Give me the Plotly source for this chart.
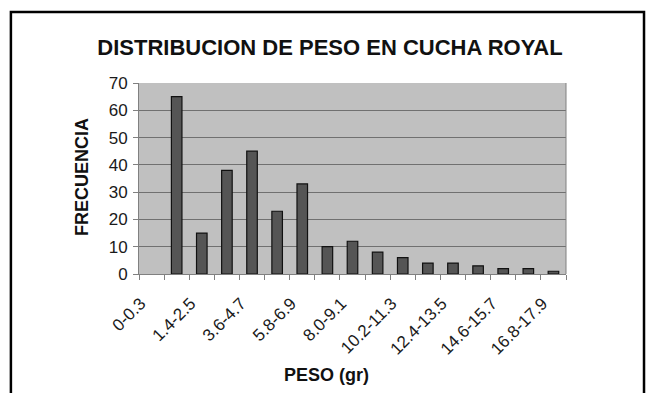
import plotly.graph_objects as go

# Weight classes (grams) and how many fish fall in each
clases = ["0-0.3", "0.3-1.4", "1.4-2.5", "2.5-3.6", "3.6-4.7", "4.7-5.8",
          "5.8-6.9", "6.9-8.0", "8.0-9.1", "9.1-10.2", "10.2-11.3",
          "11.3-12.4", "12.4-13.5", "13.5-14.6", "14.6-15.7", "15.7-16.8",
          "16.8-17.9"]
frecuencia = [0, 65, 15, 38, 45, 23, 33, 10, 12, 8, 6, 4, 4, 3, 2, 2, 1]

# only every other class gets a visible label on the axis
etiquetas = [c if i % 2 == 0 else "" for i, c in enumerate(clases)]
# empty classes get no outline either
contorno = [1.2 if f > 0 else 0 for f in frecuencia]

FONT = "Arial, Liberation Sans, sans-serif"

fig = go.Figure(go.Bar(
    x=clases,
    y=frecuencia,
    marker=dict(color="#555555", line=dict(color="#111111", width=contorno)),
))

fig.update_layout(
    width=647, height=393,
    margin=dict(l=139, r=81, t=83, b=119),
    paper_bgcolor="white",
    plot_bgcolor="#c0c0c0",
    bargap=0.58,
    showlegend=False,
    title=dict(
        text="<b>DISTRIBUCION DE PESO EN CUCHA ROYAL</b>",
        x=0.51, xanchor="center", y=0.88, yanchor="middle",
        font=dict(family=FONT, size=22, color="#111111"),
    ),
    font=dict(family=FONT, color="#1a1a1a"),
)

fig.update_xaxes(
    type="category",
    tickvals=clases,
    ticktext=etiquetas,
    tickangle=-45,
    tickson="boundaries",
    ticks="outside", ticklen=5, tickcolor="#808080",
    ticklabelstandoff=12, ticklabelshift=-11,
    showline=True, linecolor="#808080", linewidth=1,
    showgrid=False,
    tickfont=dict(family=FONT, size=17, color="#1a1a1a"),
    mirror=False,
)

fig.update_yaxes(
    range=[0, 70],
    dtick=10,
    ticks="outside", ticklen=5, tickcolor="#808080",
    showline=True, linecolor="#808080", linewidth=1,
    showgrid=True, gridcolor="#707070", gridwidth=1,
    zeroline=False,
    ticklabelstandoff=2,
    tickfont=dict(family=FONT, size=17, color="#1a1a1a"),
)

# right edge of the plotting area
fig.add_shape(type="line", xref="paper", yref="paper",
              x0=1, x1=1, y0=0, y1=1,
              line=dict(color="#808080", width=1))

# outer frame around the chart
fig.add_shape(type="rect", xref="paper", yref="paper",
              x0=-0.300, x1=1.1827, y0=-0.70, y1=1.3717,
              line=dict(color="black", width=2.5), layer="above")

fig.add_annotation(text="<b>FRECUENCIA</b>", xref="paper", yref="paper",
                   x=-0.1335, y=0.508, xanchor="center", yanchor="middle",
                   textangle=-90, showarrow=False,
                   font=dict(family=FONT, size=18, color="#111111"))
fig.add_annotation(text="<b>PESO (gr)</b>", xref="paper", yref="paper",
                   x=0.44, y=-0.529, xanchor="center", yanchor="middle",
                   showarrow=False,
                   font=dict(family=FONT, size=18, color="#111111"))

fig.write_html("out.html")
